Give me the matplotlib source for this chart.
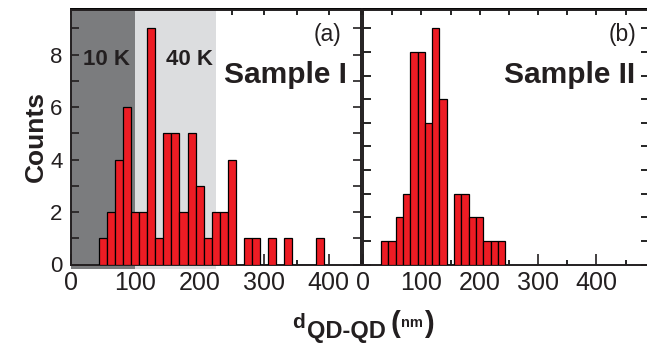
import matplotlib.pyplot as plt
import numpy as np
from matplotlib.ticker import MultipleLocator, NullFormatter

plt.rcParams['font.family'] = ['Liberation Sans', 'DejaVu Sans']

# histogram of dot-dot distances, 12.5 nm bins
bin_width = 12.5
start_a = 43.3
counts_a = [1, 2, 4, 6, 2, 2, 9, 1, 5, 5, 2, 5, 3, 1, 2, 2, 4, 0, 1, 1, 0, 1, 0, 1, 0, 0, 0, 1]
start_b = 31.0
counts_b = [1, 1, 2, 3, 9, 9, 6, 10, 7, 0, 3, 3, 2, 2, 1, 1, 1]

region_10K = (0, 100)
region_40K = (100, 225)

RED = '#ed1c24'
DARK = '#231f20'
NARROW = ['Liberation Sans Narrow', 'Liberation Sans', 'DejaVu Sans']

fig = plt.figure(figsize=(6.47, 3.44), dpi=100)
ax1 = fig.add_axes([71 / 647, 79.5 / 344, 290 / 647, 255 / 344])
ax2 = fig.add_axes([363 / 647, 79.5 / 344, 286 / 647, 255 / 344])


def draw_hist(ax, start, counts):
    edges = start + bin_width * np.arange(len(counts))
    ax.bar(edges, counts, width=bin_width, align='edge', color=RED,
           edgecolor='black', linewidth=0.9, zorder=3)


def style(ax, xmax, ymax):
    ax.set_xlim(0, xmax)
    ax.set_ylim(0, ymax)
    ax.xaxis.set_major_locator(MultipleLocator(100))
    ax.xaxis.set_minor_locator(MultipleLocator(50))
    ax.tick_params(axis='x', which='major', direction='in', length=8, width=1.2,
                   top=False, pad=5, colors=DARK)
    ax.tick_params(axis='x', which='minor', direction='in', length=3.6, width=1.2, top=False)
    for lab in ax.get_xticklabels():
        lab.set_family(NARROW)
        lab.set_fontsize(18)
    top = ax.secondary_xaxis('top')
    top.set_xticks(np.arange(0, xmax + 1, 50))
    top.tick_params(direction='in', length=4.5, width=1.2, labeltop=False)
    for s in ax.spines.values():
        s.set_linewidth(1.4)
        s.set_color(DARK)
    top.spines['top'].set_linewidth(1.4)


# (a) Sample I
draw_hist(ax1, start_a, counts_a)
for (x0, x1), c in [(region_10K, '#7b7c7e'), (region_40K, '#dcdddf')]:
    span = ax1.axvspan(x0, x1, ymin=-0.016, ymax=1, color=c, lw=0, zorder=1)
    span.set_clip_on(False)
style(ax1, 450, 9.72)
ax1.yaxis.set_major_locator(MultipleLocator(2))
ax1.yaxis.set_minor_locator(MultipleLocator(1))
ax1.tick_params(axis='y', which='both', direction='in', length=5.5, width=1.2,
                right=True, labelsize=16, pad=6, colors=DARK)
ax1.set_ylabel('Counts', fontsize=19, fontweight='bold', color=DARK, labelpad=2)

fig.text(83 / 647, 1 - 65 / 344, '10 K', fontsize=16, fontweight='bold', color=DARK, va='baseline')
fig.text(166 / 647, 1 - 65 / 344, '40 K', fontsize=16, fontweight='bold', color=DARK, va='baseline')
fig.text(347 / 647, 1 - 83 / 344, 'Sample I', fontsize=21.5, fontweight='bold',
         color=DARK, ha='right', va='baseline')
fig.text(341 / 647, 1 - 41 / 344, '(a)', fontsize=16.5, color=DARK, ha='right', va='baseline')

# (b) Sample II
draw_hist(ax2, start_b, counts_b)
style(ax2, 490, 10.8)
ax2.yaxis.set_major_locator(MultipleLocator(1))
ax2.yaxis.set_major_formatter(NullFormatter())
ax2.tick_params(axis='y', which='both', direction='in', length=5.5, width=1.2, right=True)
fig.text(635 / 647, 1 - 83 / 344, 'Sample II', fontsize=21.5, fontweight='bold',
         color=DARK, ha='right', va='baseline')
fig.text(636 / 647, 1 - 41 / 344, '(b)', fontsize=16.5, color=DARK, ha='right', va='baseline')

# x label: d_QD-QD (nm)
fig.text(292 / 647, 1 - 328 / 344, 'd', fontsize=15, fontweight='bold', color=DARK, va='baseline')
fig.text(307 / 647, 1 - 338 / 344, 'QD-QD', fontsize=17, fontweight='bold', color=DARK, va='baseline')
fig.text(391 / 647, 1 - 332 / 344, '(', fontsize=21, fontweight='bold', color=DARK, va='baseline')
fig.text(401 / 647, 1 - 327 / 344, 'nm', fontsize=10.5, fontweight='bold', family=NARROW,
         color=DARK, va='baseline')
fig.text(424 / 647, 1 - 332 / 344, ')', fontsize=21, fontweight='bold', color=DARK, va='baseline')

fig.savefig('out.png', dpi=100)
